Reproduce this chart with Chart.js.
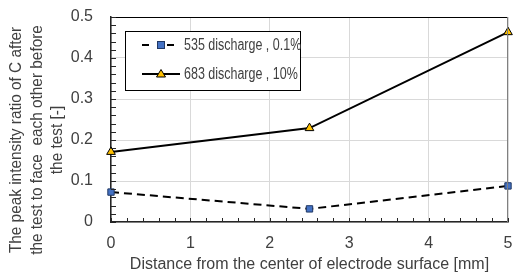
<!DOCTYPE html>
<html>
<head>
<meta charset="utf-8">
<script src="https://cdn.jsdelivr.net/npm/chart.js@4"></script>
<style>
  html, body { margin: 0; padding: 0; background: #fff; }
  canvas { display: block; }
</style>
</head>
<body>
<canvas id="chart" width="515" height="274"></canvas>
<script>
// chart data
const distances = [0, 2.5, 5];
const discharge535 = [0.073, 0.032, 0.088];
const discharge683 = [0.171, 0.229, 0.463];
const seriesLabels = ['535 discharge , 0.1%', '683 discharge , 10%'];
const yTitle = ['The peak intensity ratio of C after', 'the test to face  each other before', 'the test [-]'];
const xTitle = 'Distance from the center of electrode surface [mm]';

const FONT = "'Liberation Sans', sans-serif";
const textColor = '#404040';

// draws frame, minor ticks, the y title and the legend box
const decorations = {
  id: 'decorations',
  afterDraw(chart) {
    const ctx = chart.ctx;
    const a = chart.chartArea;
    const xs = chart.scales.x, ys = chart.scales.y;
    ctx.save();

    // top / right border
    ctx.strokeStyle = '#000';
    ctx.lineWidth = 1;
    ctx.beginPath();
    ctx.moveTo(a.left, a.top + 0.5);
    ctx.lineTo(a.right, a.top + 0.5);
    ctx.stroke();
    ctx.strokeStyle = '#808080';
    ctx.beginPath();
    ctx.moveTo(a.right - 0.5, a.top);
    ctx.lineTo(a.right - 0.5, a.bottom);
    ctx.stroke();

    // minor ticks, inside
    ctx.strokeStyle = '#262626';
    ctx.lineWidth = 1;
    for (let v = 0; v <= 5.001; v += 0.2) {
      const px = Math.round(xs.getPixelForValue(v)) + 0.5;
      ctx.beginPath();
      ctx.moveTo(px, a.bottom);
      ctx.lineTo(px, a.bottom - 4);
      ctx.stroke();
    }
    for (let v = 0; v <= 0.5001; v += 0.02) {
      const py = Math.round(ys.getPixelForValue(v)) + 0.5;
      ctx.beginPath();
      ctx.moveTo(a.left, py);
      ctx.lineTo(a.left + 5, py);
      ctx.stroke();
    }

    // y title (three rotated lines)
    ctx.fillStyle = textColor;
    ctx.font = '16px ' + FONT;
    ctx.textAlign = 'center';
    ctx.textBaseline = 'middle';
    const cy = 140;
    yTitle.forEach((t, i) => {
      ctx.save();
      ctx.translate(17 + i * 20.5, cy);
      ctx.rotate(-Math.PI / 2);
      ctx.scale(0.96, 1);
      ctx.fillText(t, 0, 0);
      ctx.restore();
    });

    // legend box
    const lx = 125, ly = 31, lw = 175, lh = 59;
    ctx.fillStyle = '#fff';
    ctx.fillRect(lx, ly, lw, lh);
    ctx.strokeStyle = '#000';
    ctx.lineWidth = 1;
    ctx.strokeRect(lx + 0.5, ly + 0.5, lw, lh);
    const rows = [ly + 14, ly + 43];
    chart.data.datasets.forEach((ds, i) => {
      const y = rows[i];
      ctx.strokeStyle = '#000';
      ctx.lineWidth = 2;
      ctx.beginPath();
      if (ds.borderDash) {
        ctx.moveTo(lx + 17, y);
        ctx.lineTo(lx + 24, y);
        ctx.moveTo(lx + 42, y);
        ctx.lineTo(lx + 49, y);
      } else {
        ctx.moveTo(lx + 17, y);
        ctx.lineTo(lx + 55, y);
      }
      ctx.stroke();
      const mx = lx + 36;
      ctx.fillStyle = ds.pointBackgroundColor;
      ctx.strokeStyle = ds.pointBorderColor;
      ctx.lineWidth = 1;
      if (ds.pointStyle === 'rect') {
        ctx.fillRect(mx - 3.5, y - 3.5, 7, 7);
        ctx.strokeRect(mx - 3.5, y - 3.5, 7, 7);
      } else {
        ctx.beginPath();
        ctx.moveTo(mx, y - 4.5);
        ctx.lineTo(mx + 4.5, y + 3);
        ctx.lineTo(mx - 4.5, y + 3);
        ctx.closePath();
        ctx.fill();
        ctx.stroke();
      }
      ctx.save();
      ctx.fillStyle = textColor;
      ctx.font = '16px ' + FONT;
      ctx.textAlign = 'left';
      ctx.textBaseline = 'middle';
      ctx.translate(lx + 59, y + 1);
      ctx.scale(0.78, 1);
      ctx.fillText(ds.label, 0, 0);
      ctx.restore();
    });
    ctx.restore();
  }
};

new Chart(document.getElementById('chart'), {
  type: 'scatter',
  data: {
    datasets: [
      {
        label: seriesLabels[0],
        data: distances.map((x, i) => ({ x: x, y: discharge535[i] })),
        showLine: true,
        borderColor: '#000',
        borderWidth: 2,
        borderDash: [8, 5],
        pointStyle: 'rect',
        pointRadius: 4.5,
        pointBackgroundColor: '#4472C4',
        pointBorderColor: '#203864',
        pointBorderWidth: 1
      },
      {
        label: seriesLabels[1],
        data: distances.map((x, i) => ({ x: x, y: discharge683[i] })),
        showLine: true,
        borderColor: '#000',
        borderWidth: 2,
        pointStyle: 'triangle',
        pointRadius: 5,
        pointBackgroundColor: '#FFC000',
        pointBorderColor: '#000',
        pointBorderWidth: 1
      }
    ]
  },
  options: {
    responsive: false,
    animation: false,
    clip: false,
    layout: { padding: { top: 17, right: 7, left: 0, bottom: 0 } },
    plugins: {
      legend: { display: false },
      tooltip: { enabled: false }
    },
    scales: {
      x: {
        type: 'linear',
        min: 0, max: 5,
        ticks: { stepSize: 1, color: textColor, font: { family: FONT, size: 16 }, padding: 12, maxRotation: 0 },
        grid: { color: '#d9d9d9', drawTicks: false, lineWidth: 1 },
        border: { color: '#262626', width: 1.5 },
        title: { display: true, text: xTitle, color: textColor, font: { family: FONT, size: 16 }, padding: { top: 0, bottom: 0 } },
        afterFit(scale) { scale.height = 52; scale.paddingLeft = 0; scale.paddingRight = 0; }
      },
      y: {
        min: 0, max: 0.5,
        ticks: { stepSize: 0.1, color: textColor, font: { family: FONT, size: 16 }, padding: 18 },
        grid: { color: '#d9d9d9', drawTicks: false, lineWidth: 1 },
        border: { color: '#262626', width: 1.5 },
        afterFit(scale) { scale.width = 111; scale.paddingTop = 0; scale.paddingBottom = 0; }
      }
    }
  },
  plugins: [decorations]
});
</script>
</body>
</html>
